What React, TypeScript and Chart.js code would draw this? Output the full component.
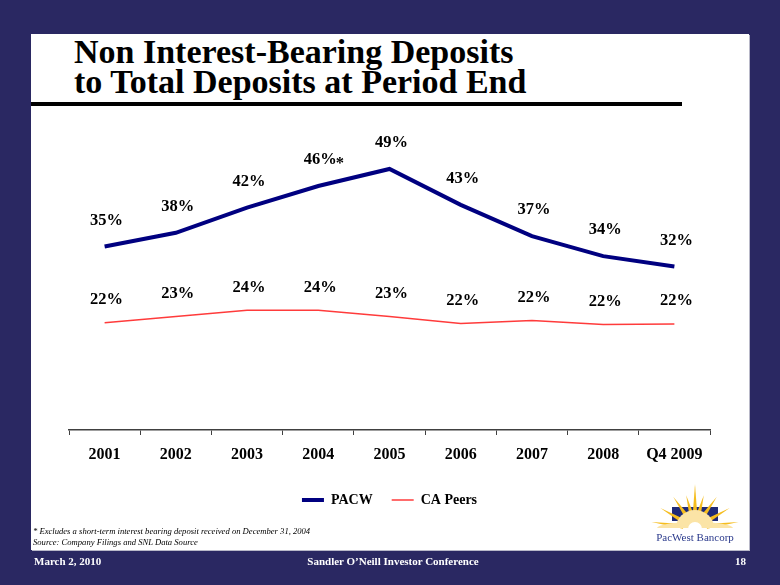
import React, { useEffect, useRef } from 'react';
import { Chart, registerables } from 'chart.js';

Chart.register(...registerables);

const categories = ['2001', '2002', '2003', '2004', '2005', '2006', '2007', '2008', 'Q4 2009'];
const pacwValues = [35.4, 37.8, 42.2, 46.0, 49.0, 42.7, 37.2, 33.7, 31.9];
const peersValues = [22.0, 23.1, 24.2, 24.2, 23.1, 21.9, 22.4, 21.7, 21.8];
const pacwNotes = ['', '', '', '*', '', '', '', '', ''];
const peersNotes = ['', '', '', '', '', '', '', '', ''];

const SERIF = '"Liberation Serif", "Times New Roman", serif';
const NAVY_BG = '#2A2862';

const valueLabelPlugin = {
  id: 'valueLabels',
  afterDatasetsDraw(chart: any, _args: any, opts: any) {
    const ctx = chart.ctx;
    ctx.save();
    ctx.font = `bold 16.5px ${SERIF}`;
    ctx.fillStyle = '#000';
    ctx.textBaseline = 'middle';
    chart.data.datasets.forEach((ds: any, di: number) => {
      const meta = chart.getDatasetMeta(di);
      const off = opts.offsets[di];
      const notes = opts.notes[di] || [];
      meta.data.forEach((pt: any, i: number) => {
        const text = Math.round(ds.data[i]) + '%';
        const x = pt.x + opts.dx;
        const y = pt.y - off;
        ctx.textAlign = 'center';
        ctx.fillText(text, x, y);
        if (notes[i]) {
          const w = ctx.measureText(text).width;
          ctx.textAlign = 'left';
          ctx.fillText(notes[i], x + w / 2 - 1, y + 4);
        }
      });
    });
    ctx.restore();
  },
};

function ChartBox() {
  const ref = useRef<HTMLCanvasElement | null>(null);
  useEffect(() => {
    if (!ref.current) return;
    const chart = new Chart(ref.current, {
      type: 'line',
      data: {
        labels: categories,
        datasets: [
          {
            label: 'PACW',
            data: pacwValues,
            borderColor: '#000080',
            backgroundColor: '#000080',
            borderWidth: 4,
            pointRadius: 0,
            tension: 0,
          },
          {
            label: 'CA Peers',
            data: peersValues,
            borderColor: '#FF3B3B',
            backgroundColor: '#FF3B3B',
            borderWidth: 1.5,
            pointRadius: 0,
            tension: 0,
          },
        ],
      },
      options: {
        responsive: false,
        animation: false,
        layout: { padding: { left: 38, right: 41, top: 20, bottom: 23 } },
        scales: {
          x: {
            offset: true,
            grid: {
              display: true,
              drawOnChartArea: false,
              drawTicks: true,
              tickLength: 5,
              offset: true,
              color: '#404040',
              lineWidth: 1,
            },
            border: { display: true, color: '#404040', width: 1.5 },
            ticks: {
              autoSkip: false,
              maxRotation: 0,
              padding: 10,
              color: '#000',
              font: { family: SERIF, size: 16, weight: 'bold' },
            },
            afterFit: (s: any) => {
              s.height = 44;
            },
          },
          y: { display: false, min: 3.2, max: 55.83 },
        },
        plugins: {
          legend: {
            position: 'bottom',
            labels: {
              usePointStyle: true,
              pointStyle: 'line',
              pointStyleWidth: 22,
              padding: 19,
              color: '#000',
              font: { family: SERIF, size: 14, weight: 'bold' },
            },
          },
          tooltip: { enabled: false },
          valueLabels: { offsets: [26, 23], dx: 2, notes: [pacwNotes, peersNotes] },
        } as any,
      },
      plugins: [valueLabelPlugin],
    } as any);
    return () => chart.destroy();
  }, []);
  return (
    <canvas
      ref={ref}
      width={720}
      height={430}
      style={{ position: 'absolute', left: 31, top: 110, width: 720, height: 430 }}
    />
  );
}

function Logo() {
  const cx = 55;
  const cy = 53;
  const rays: JSX.Element[] = [];
  const angles = [172, 150, 125, 105, 90, 75, 55, 30, 8];
  const lengths = [44, 40, 38, 34, 44, 34, 38, 40, 44];
  angles.forEach((deg, k) => {
    const ang = (deg * Math.PI) / 180;
    const R = lengths[k];
    const r0 = 12;
    const hw = 0.2;
    const tip = [cx + Math.cos(ang) * R, cy - Math.sin(ang) * R];
    const b1 = [cx + Math.cos(ang + hw) * r0, cy - Math.sin(ang + hw) * r0];
    const b2 = [cx + Math.cos(ang - hw) * r0, cy - Math.sin(ang - hw) * r0];
    rays.push(
      <polygon
        key={k}
        points={`${tip[0]},${tip[1]} ${b1[0]},${b1[1]} ${b2[0]},${b2[1]}`}
        fill="#F5BD1F"
      />
    );
  });
  return (
    <div style={{ position: 'absolute', left: 640, top: 475, width: 110, height: 72 }}>
      <svg width={110} height={58} style={{ position: 'absolute', left: 0, top: 0 }}>
        <rect x={32} y={32} width={46} height={14} fill="#1F2A78" />
        {rays}
        <path d={`M ${cx - 38} ${cy} A 38 6 0 0 1 ${cx + 38} ${cy} Z`} fill="#FBE4A6" />
        <path d={`M ${cx - 19} ${cy} A 19 18 0 0 1 ${cx + 19} ${cy} Z`} fill="#FBE4A6" />
        <path d={`M ${cx - 7} ${cy + 1} A 7 7 0 0 1 ${cx + 7} ${cy + 1} Z`} fill="#FFFFFF" />
      </svg>
      <div
        style={{
          position: 'absolute',
          left: 0,
          top: 56,
          width: 110,
          textAlign: 'center',
          font: `11px ${SERIF}`,
          color: '#2B3A8C',
          whiteSpace: 'nowrap',
        }}
      >
        PacWest Bancorp
      </div>
    </div>
  );
}

export default function App() {
  return (
    <div
      style={{
        position: 'fixed',
        left: 0,
        top: 0,
        width: 780,
        height: 585,
        background: NAVY_BG,
        overflow: 'hidden',
        fontFamily: SERIF,
      }}
    >
      <div
        style={{
          position: 'absolute',
          left: 31,
          top: 34,
          width: 718,
          height: 516,
          background: '#FFFFFF',
          boxShadow: '1px 1px 0 #B8B8C8',
        }}
      />
      <div
        style={{
          position: 'absolute',
          left: 74,
          top: 37,
          font: `bold 34px ${SERIF}`,
          lineHeight: '30px',
          color: '#000',
          whiteSpace: 'nowrap',
        }}
      >
        Non Interest-Bearing Deposits
        <br />
        to Total Deposits at Period End
      </div>
      <div style={{ position: 'absolute', left: 31, top: 102, width: 651, height: 4, background: '#000' }} />
      <ChartBox />
      <Logo />
      <div
        style={{
          position: 'absolute',
          left: 33,
          top: 526,
          font: `italic 8.6px ${SERIF}`,
          lineHeight: '11px',
          color: '#000',
          whiteSpace: 'nowrap',
        }}
      >
        * Excludes a short-term interest bearing deposit received on December 31, 2004
        <br />
        Source: Company Filings and SNL Data Source
      </div>
      <div
        style={{
          position: 'absolute',
          left: 34,
          top: 555,
          font: `bold 11px ${SERIF}`,
          color: '#FFFFFF',
          whiteSpace: 'nowrap',
        }}
      >
        March 2, 2010
      </div>
      <div
        style={{
          position: 'absolute',
          left: 243,
          width: 300,
          top: 555,
          textAlign: 'center',
          font: `bold 11px ${SERIF}`,
          color: '#FFFFFF',
          whiteSpace: 'nowrap',
        }}
      >
        Sandler O’Neill Investor Conference
      </div>
      <div
        style={{
          position: 'absolute',
          left: 700,
          width: 46,
          top: 555,
          textAlign: 'right',
          font: `bold 11px ${SERIF}`,
          color: '#FFFFFF',
        }}
      >
        18
      </div>
    </div>
  );
}
